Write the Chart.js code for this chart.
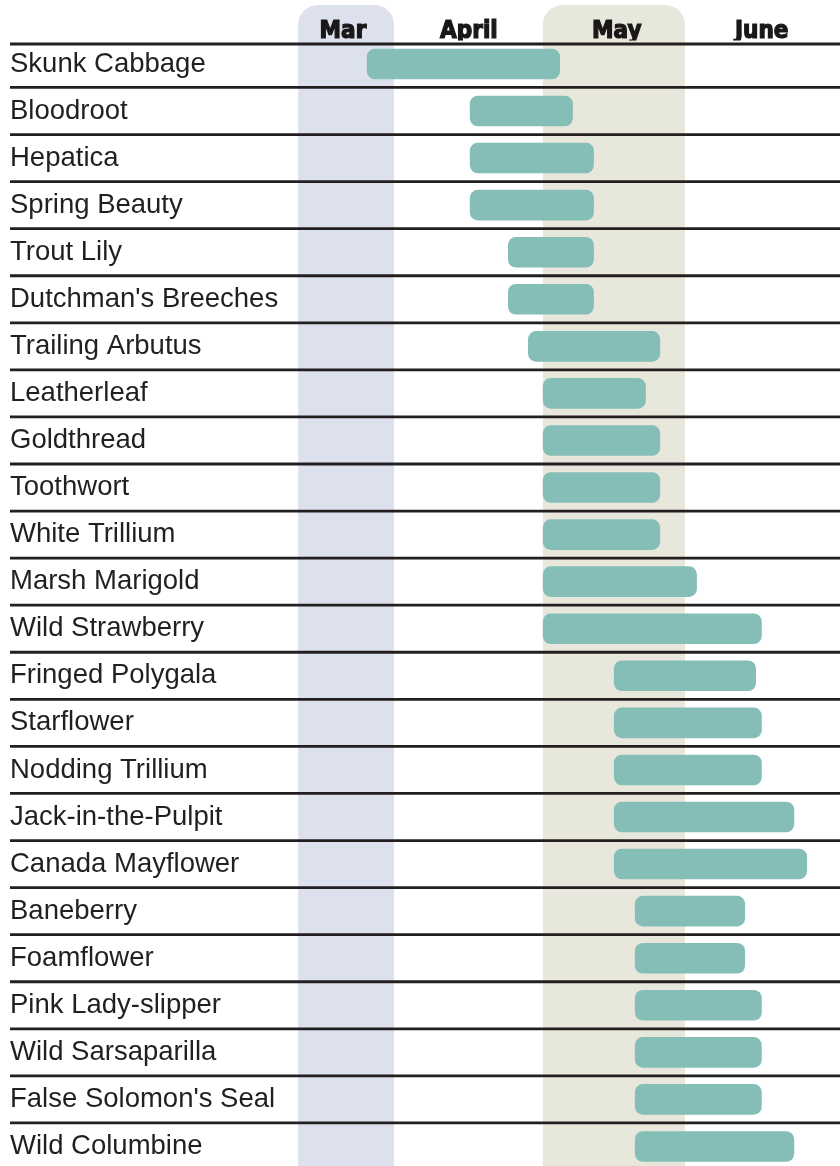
<!DOCTYPE html>
<html>
<head>
<meta charset="utf-8">
<script src="https://cdn.jsdelivr.net/npm/chart.js@4.4.1/dist/chart.umd.min.js"></script>
<style>
  html, body { margin: 0; padding: 0; background: #ffffff; overflow: hidden; }
  #wrap { width: 840px; height: 1170px; }
</style>
</head>
<body>
<div id="wrap"><canvas id="c" width="840" height="1170"></canvas></div>
<script>
// Values are in days counted from March 1 (Mar 1 = 0, Apr 1 = 31, May 1 = 61, Jun 1 = 92)
const flowers = ["Skunk Cabbage","Bloodroot","Hepatica","Spring Beauty","Trout Lily","Dutchman's Breeches","Trailing Arbutus","Leatherleaf","Goldthread","Toothwort","White Trillium","Marsh Marigold","Wild Strawberry","Fringed Polygala","Starflower","Nodding Trillium","Jack-in-the-Pulpit","Canada Mayflower","Baneberry","Foamflower","Pink Lady-slipper","Wild Sarsaparilla","False Solomon's Seal","Wild Columbine"];
const bloomStart = [25.3, 46.9, 46.9, 46.9, 54.9, 54.9, 59.1, 62.2, 62.2, 62.2, 62.2, 62.2, 62.2, 77.1, 77.1, 77.1, 77.1, 77.1, 81.5, 81.5, 81.5, 81.5, 81.5, 81.5];
const bloomEnd   = [65.8, 68.5, 72.9, 72.9, 72.9, 72.9, 86.8, 83.8, 86.8, 86.8, 86.8, 94.5, 108.1, 106.9, 108.1, 108.1, 114.9, 117.6, 104.6, 104.6, 108.1, 108.1, 108.1, 114.9];

const monthNames   = ["Mar", "April", "May", "June"];
const monthCenters = [20.3, 46.7, 77.7, 108.1];

const bandStart  = [10.9, 62.2];
const bandEnd    = [31.0, 92.0];
const bandColors = ["#dde1ee", "#e8e7dc"];

const bands = {
  id: 'bands',
  beforeDraw(chart) {
    const ctx = chart.ctx, xs = chart.scales.x;
    ctx.save();
    for (let i = 0; i < bandStart.length; i++) {
      const x1 = xs.getPixelForValue(bandStart[i]);
      const x2 = xs.getPixelForValue(bandEnd[i]);
      ctx.fillStyle = bandColors[i];
      ctx.beginPath();
      ctx.roundRect(x1, 5, x2 - x1, chart.height + 40, [20, 20, 0, 0]);
      ctx.fill();
    }
    ctx.restore();
  }
};

const rowLines = {
  id: 'rowLines',
  beforeDatasetsDraw(chart) {
    const ctx = chart.ctx, ys = chart.scales.y, ca = chart.chartArea;
    const rowH = (ca.bottom - ca.top) / flowers.length;
    ctx.save();
    ctx.strokeStyle = '#231f20';
    ctx.lineWidth = 2.8;
    for (let i = 0; i < flowers.length; i++) {
      let y = ys.getPixelForValue(i) - rowH / 2;
      if (i === 0) y += 3.6;
      ctx.beginPath();
      ctx.moveTo(10, y);
      ctx.lineTo(840, y);
      ctx.stroke();
    }
    ctx.restore();
  }
};

new Chart(document.getElementById('c'), {
  type: 'bar',
  data: {
    labels: flowers,
    datasets: [{
      data: flowers.map((f, i) => [bloomStart[i], bloomEnd[i]]),
      backgroundColor: '#85beb7',
      borderWidth: 0,
      borderRadius: 8,
      borderSkipped: false,
      barPercentage: 0.65,
      categoryPercentage: 1.0
    }]
  },
  options: {
    indexAxis: 'y',
    responsive: false,
    animation: false,
    layout: { padding: { left: 10, right: 0, top: 0, bottom: 0 } },
    plugins: { legend: { display: false }, tooltip: { enabled: false } },
    scales: {
      x: {
        type: 'linear',
        position: 'top',
        min: 9.2,
        max: 124.5,
        grid: { display: false, drawTicks: false },
        border: { display: false },
        afterBuildTicks(scale) { scale.ticks = monthCenters.map(v => ({ value: v })); },
        afterFit(scale) { scale.height = 40.4; scale.paddingLeft = 0; scale.paddingRight = 0; },
        ticks: {
          autoSkip: false,
          maxRotation: 0,
          padding: -5.6,
          color: '#1a1718',
          textStrokeColor: '#1a1718',
          textStrokeWidth: 1.2,
          font: { family: 'DejaVu Sans Condensed', weight: 'bold', size: 24 },
          callback: (v, i) => monthNames[i]
        }
      },
      y: {
        type: 'category',
        grid: { display: false, drawTicks: false },
        border: { display: false },
        afterFit(scale) { scale.width = 280; scale.paddingTop = 0; scale.paddingBottom = 0; },
        ticks: {
          crossAlign: 'far',
          padding: 0,
          color: '#231f20',
          font: { family: 'Liberation Sans', size: 27.5 }
        }
      }
    }
  },
  plugins: [bands, rowLines]
});
</script>
</body>
</html>
